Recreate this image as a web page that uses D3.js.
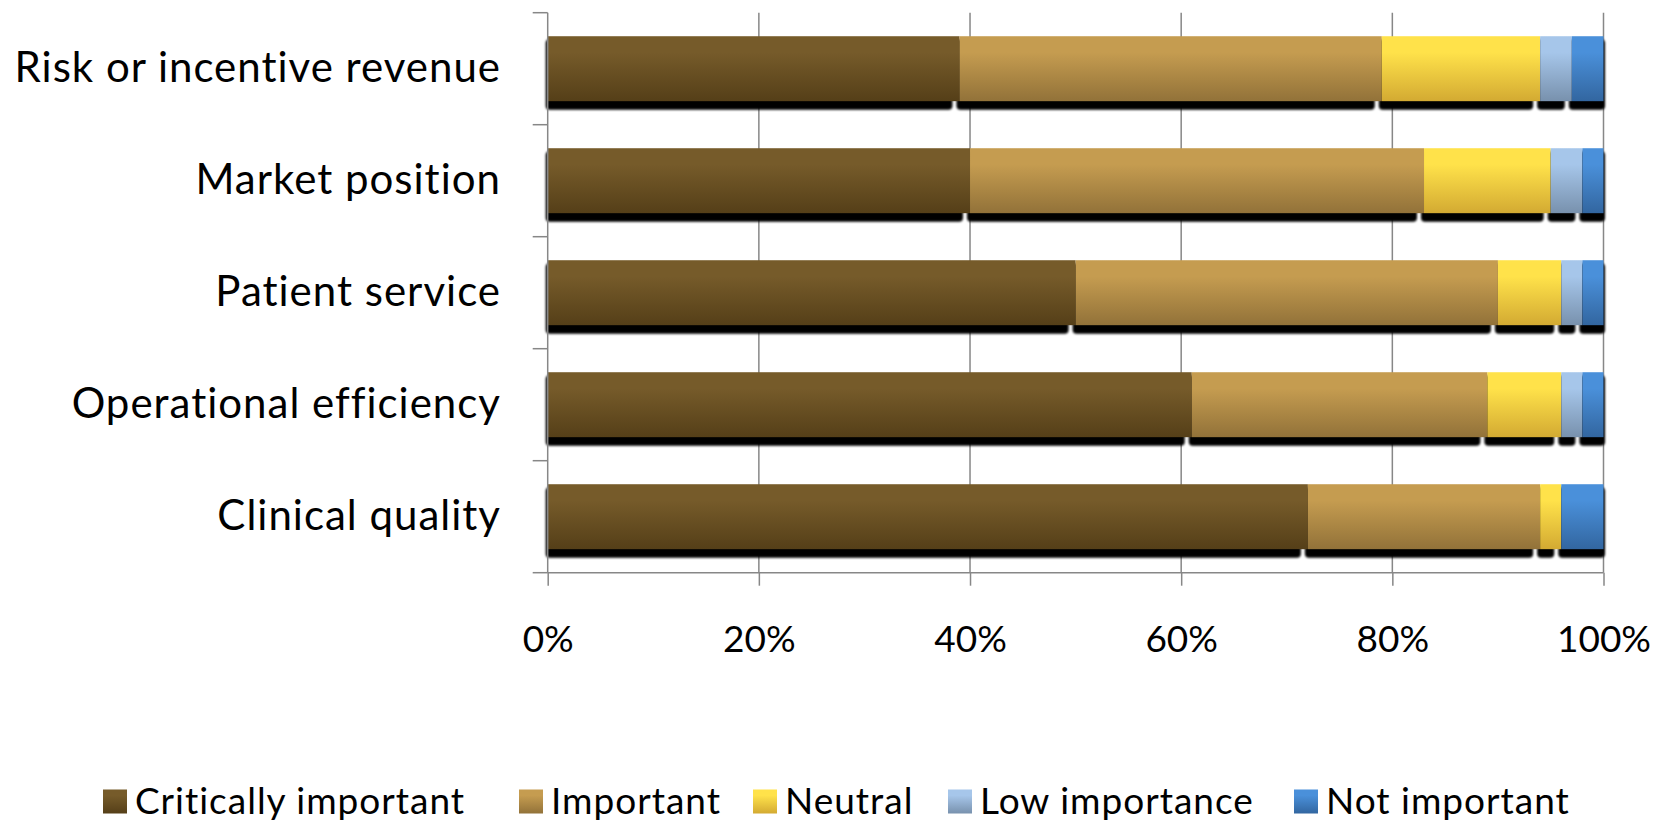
<!DOCTYPE html>
<html>
<head>
<meta charset="utf-8">
<script src="https://cdn.jsdelivr.net/npm/d3@7"></script>
<style>
  html, body { margin: 0; padding: 0; background: #fff; }
  svg { display: block; }
  text { font-family: Lato, "Open Sans", sans-serif; fill: #000; }
</style>
</head>
<body>
<svg id="chart" width="1665" height="822"></svg>
<script>
// Survey: importance of each goal (share of respondents, %)
const categories = [
  "Risk or incentive revenue",
  "Market position",
  "Patient service",
  "Operational efficiency",
  "Clinical quality"
];
const seriesNames = ["Critically important", "Important", "Neutral", "Low importance", "Not important"];
const criticallyImportant = [39, 40, 50, 61, 72];
const important          = [40, 43, 40, 28, 22];
const neutral            = [15, 12,  6,  7,  2];
const lowImportance      = [ 3,  3,  2,  2,  0];
const notImportant       = [ 3,  2,  2,  2,  4];
const xTicks = [0, 20, 40, 60, 80, 100];

// gradient stops (top, bottom) per series
const palette = [
  ["#765b2a", "#553f18"],
  ["#c59c50", "#927239"],
  ["#ffe24a", "#d3aa32"],
  ["#a6c6ea", "#7891ad"],
  ["#4a90da", "#3266a0"]
];

const seriesValues = [criticallyImportant, important, neutral, lowImportance, notImportant];
const rows = categories.map((c, i) => {
  const r = { category: c };
  seriesNames.forEach((s, k) => { r[s] = seriesValues[k][i]; });
  return r;
});

const svg = d3.select("#chart");
const plotLeft = 547.7, plotRight = 1603.5, plotTop = 12.7, plotBottom = 572.7;
const gridColor = "#878787";

const x = d3.scaleLinear().domain([0, 100]).range([plotLeft, plotRight]);
const y = d3.scaleBand().domain(categories).range([plotTop, plotBottom])
  .paddingInner(0.42).paddingOuter(0.21);
const step = y.step();

const defs = svg.append("defs");
palette.forEach((p, k) => {
  const g = defs.append("linearGradient").attr("id", "grad" + k)
    .attr("x1", 0).attr("y1", 0).attr("x2", 0).attr("y2", 1);
  g.append("stop").attr("offset", "0%").attr("stop-color", p[0]);
  g.append("stop").attr("offset", "25%").attr("stop-color", p[0]);
  g.append("stop").attr("offset", "100%").attr("stop-color", p[1]);
});
const blur = defs.append("filter").attr("id", "soft")
  .attr("x", "-10%").attr("y", "-50%").attr("width", "120%").attr("height", "200%");
blur.append("feGaussianBlur").attr("stdDeviation", 0.8);

// vertical gridlines
svg.append("g").selectAll("line").data(xTicks.filter(t => t > 0)).join("line")
  .attr("x1", d => x(d)).attr("x2", d => x(d))
  .attr("y1", plotTop).attr("y2", plotBottom)
  .attr("stroke", gridColor).attr("stroke-width", 1.5);

const stacked = d3.stack().keys(seriesNames)(rows);

// drop shadows under each segment
const shadowG = svg.append("g").attr("filter", "url(#soft)");
stacked.forEach((layer, k) => {
  shadowG.selectAll(null).data(layer.filter(d => d[1] > d[0])).join("rect")
    .attr("x", d => x(d[0]) - (d[0] === 0 ? 2 : 3))
    .attr("y", d => y(d.data.category) + 3)
    .attr("width", d => {
      const isLast = d3.sum(seriesNames.slice(k + 1), s => d.data[s]) === 0;
      const x0 = x(d[0]) - (d[0] === 0 ? 2 : 3);
      const x1 = isLast ? x(d[1]) + 1.5 : x(d[1]) - 7;
      return Math.max(2, x1 - x0);
    })
    .attr("height", y.bandwidth() + 5.6)
    .attr("rx", 4).attr("ry", 4)
    .attr("fill", "#000");
});

// bar segments
stacked.forEach((layer, k) => {
  svg.append("g").selectAll("rect").data(layer.filter(d => d[1] > d[0])).join("rect")
    .attr("x", d => x(d[0]))
    .attr("y", d => y(d.data.category))
    .attr("width", d => x(d[1]) - x(d[0]))
    .attr("height", y.bandwidth())
    .attr("fill", `url(#grad${k})`);
});

// category axis
const yAxis = svg.append("g");
yAxis.append("line").attr("x1", plotLeft).attr("x2", plotLeft).attr("y1", plotTop).attr("y2", plotBottom)
  .attr("stroke", gridColor).attr("stroke-width", 1.5);
yAxis.selectAll("line.tick").data(d3.range(categories.length + 1)).join("line")
  .attr("class", "tick")
  .attr("x1", plotLeft - 15).attr("x2", plotLeft)
  .attr("y1", i => plotTop + i * step).attr("y2", i => plotTop + i * step)
  .attr("stroke", gridColor).attr("stroke-width", 1.5);
yAxis.selectAll("text").data(categories).join("text")
  .attr("x", 501)
  .attr("y", d => y(d) + y.bandwidth() / 2 + 13)
  .attr("text-anchor", "end")
  .style("font-size", "42px")
  .style("letter-spacing", "1px")
  .text(d => d);

// value axis
const xAxis = svg.append("g").attr("transform", `translate(0,${plotBottom})`)
  .call(d3.axisBottom(x).tickValues(xTicks).tickFormat(d => d + "%").tickSize(13).tickPadding(0));
xAxis.select(".domain").attr("stroke", gridColor).attr("stroke-width", 1.5)
  .attr("d", `M${plotLeft},0H${plotRight}`);
xAxis.selectAll(".tick line").attr("stroke", gridColor).attr("stroke-width", 1.5);
xAxis.selectAll(".tick text")
  .attr("y", 79).attr("dy", null)
  .style("font-size", "37px").style("font-family", "Lato, sans-serif").attr("fill", "#000");

// legend: swatch + label per series
const legendX = [103, 519, 753, 948, 1294];
const legend = svg.append("g");
seriesNames.forEach((name, k) => {
  const item = legend.append("g").attr("transform", `translate(${legendX[k]},0)`);
  item.append("rect").attr("x", 0).attr("y", 789.5).attr("width", 24).attr("height", 24)
    .attr("fill", `url(#grad${k})`);
  item.append("text").attr("x", 32).attr("y", 813.5)
    .style("font-size", "37px").style("letter-spacing", "1px").text(name);
});
</script>
</body>
</html>
